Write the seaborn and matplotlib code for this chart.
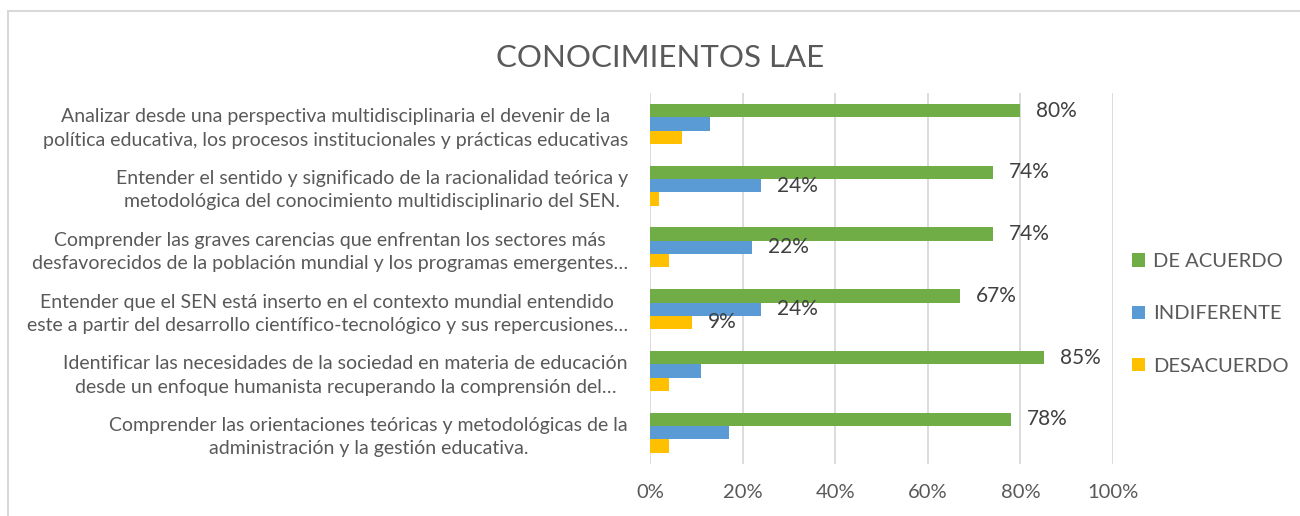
import matplotlib
matplotlib.use('Agg')
import matplotlib.pyplot as plt
import pandas as pd
import seaborn as sns
from matplotlib.patches import Patch, Rectangle
from matplotlib.ticker import PercentFormatter

# Datos
categorias = [
    'Analizar desde una perspectiva multidisciplinaria el devenir de la\n'
    'política educativa, los procesos institucionales y prácticas educativas',
    'Entender el sentido y significado de la racionalidad teórica y\n'
    'metodológica del conocimiento multidisciplinario del SEN.',
    'Comprender las graves carencias que enfrentan los sectores más\n'
    'desfavorecidos de la población mundial y los programas emergentes…',
    'Entender que el SEN está inserto en el contexto mundial entendido\n'
    'este a partir del desarrollo científico-tecnológico y sus repercusiones…',
    'Identificar las necesidades de la sociedad en materia de educación\n'
    'desde un enfoque humanista recuperando la comprensión del…',
    'Comprender las orientaciones teóricas y metodológicas de la\n'
    'administración y la gestión educativa.',
]
series = ['DE ACUERDO', 'INDIFERENTE', 'DESACUERDO']
de_acuerdo = [80, 74, 74, 67, 85, 78]
indiferente = [13, 24, 22, 24, 11, 17]
desacuerdo = [7, 2, 4, 9, 4, 4]

# Etiquetas visibles en el original
etq_acuerdo = ['80%', '74%', '74%', '67%', '85%', '78%']
etq_indif = ['', '24%', '22%', '24%', '', '']
etq_desac = ['', '', '', '9%', '', '']

colores = ['#70AD47', '#5B9BD5', '#FFC000']
gris_texto = '#595959'

df = pd.DataFrame({
    'categoria': categorias * 3,
    'serie': [series[0]] * 6 + [series[1]] * 6 + [series[2]] * 6,
    'valor': de_acuerdo + indiferente + desacuerdo,
})

sns.set_style('white')
plt.rcParams['font.family'] = ['Lato', 'DejaVu Sans']

fig = plt.figure(figsize=(13, 5.16), dpi=100)
ax = fig.add_axes([0.5, 0.1016, 0.3562, 0.7182])

sns.barplot(data=df, y='categoria', x='valor', hue='serie', order=categorias,
            hue_order=series, palette=colores, orient='h', width=0.645,
            dodge=True, legend=False, ax=ax, saturation=1, linewidth=0)

for cont, etqs in zip(ax.containers, [etq_acuerdo, etq_indif, etq_desac]):
    textos = ax.bar_label(cont, labels=etqs, padding=11.5, fontsize=15,
                          color='#404040')
    for t in textos:
        t.set_va('center')
        t.set_y(t.get_position()[1] + 0.025)

ax.set_xlim(0, 100)
ax.set_xticks([0, 20, 40, 60, 80, 100])
ax.xaxis.set_major_formatter(PercentFormatter(xmax=100, decimals=0))
ax.grid(axis='x', color='#d9d9d9', linewidth=1.3)
ax.set_axisbelow(True)
for s in ax.spines.values():
    s.set_visible(False)
ax.set_xlabel('')
ax.set_ylabel('')
ax.tick_params(axis='x', length=0, pad=15, labelsize=14.5, labelcolor=gris_texto)
ax.tick_params(axis='y', length=0, pad=16, labelsize=14, labelcolor=gris_texto)
for t in ax.get_yticklabels():
    t.set_multialignment('center')
    t.set_linespacing(1.45)

handles = [Patch(facecolor=c, edgecolor='none') for c in colores]
fig.legend(handles, series, loc='center left', bbox_to_anchor=(0.8708, 0.3915),
           bbox_transform=fig.transFigure, frameon=False, fontsize=14.5,
           handlelength=0.65, handleheight=0.65, handletextpad=0.4,
           labelspacing=1.75, borderpad=0, borderaxespad=0, labelcolor=gris_texto)

fig.text(0.508, 0.888, 'CONOCIMIENTOS LAE', ha='center', va='center',
         fontsize=22.5, color=gris_texto)

# marco del área del gráfico
fig.patches.append(Rectangle((8 / 1300, -0.1), 1.2, 1.0787, transform=fig.transFigure,
                             fill=False, edgecolor='#d9d9d9', linewidth=1.5))

fig.savefig('out.png', dpi=100)
